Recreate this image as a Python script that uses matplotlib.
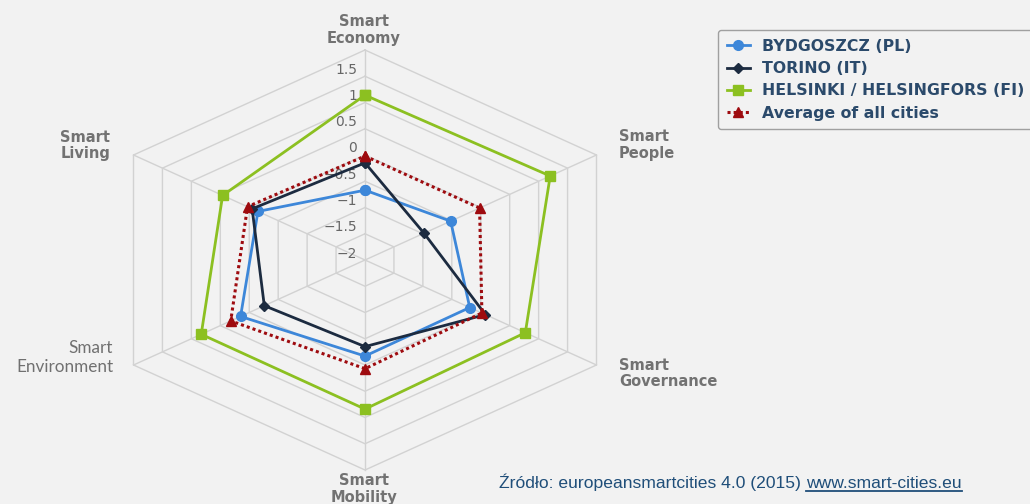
import numpy as np
import matplotlib
matplotlib.use("Agg")
import matplotlib.pyplot as plt
from matplotlib.transforms import offset_copy
from matplotlib.lines import Line2D

# ---------------- data ----------------
categories = ["Smart\nEconomy", "Smart\nPeople", "Smart\nGovernance",
              "Smart\nMobility", "Smart\nEnvironment", "Smart\nLiving"]
bydgoszcz = [-0.67, -0.52, -0.19, -0.17, 0.15, -0.15]
torino = [-0.15, -0.98, 0.08, -0.35, -0.26, -0.05]
helsinki = [1.14, 1.20, 0.77, 0.84, 0.83, 0.46]
average = [-0.02, -0.02, 0.02, 0.07, 0.32, 0.03]
series_names = ["BYDGOSZCZ (PL)", "TORINO (IT)",
                "HELSINKI / HELSINGFORS (FI)", "Average of all cities"]
r_ticks = [-2, -1.5, -1, -0.5, 0, 0.5, 1, 1.5]
grid_levels = [-1.5, -1, -0.5, 0, 0.5, 1, 1.5, 2]
r_min, r_max = -2, 2
source_prefix = "Źródło: europeansmartcities 4.0 (2015) "
source_url = "www.smart-cities.eu"

# ---------------- figure ----------------
W, H = 1030, 504
BG = "#f2f2f2"
fig = plt.figure(figsize=(W / 100, H / 100), dpi=100, facecolor=BG)


def fx(px):
    return px / W


def fy(py):
    return 1 - py / H


cx, cy = 365, 260
rh = 231.5 / np.cos(np.pi / 6)   # horizontal radius of the (stretched) polar area
rv = 210
ax = fig.add_axes([fx(cx - rh), fy(cy + rv), 2 * rh / W, 2 * rv / H], projection="polar")
ax.set_aspect("auto")
ax.set_theta_offset(np.pi / 2)
ax.set_theta_direction(-1)
ax.set_ylim(r_min, r_max)
ax.set_facecolor("none")
ax.grid(False)
ax.set_xticks([])
ax.set_yticks([])
ax.spines["polar"].set_visible(False)

n = len(categories)
angles = np.arange(n) * 2 * np.pi / n
closed = np.append(angles, angles[0])

GRID = "#d2d2d2"
for lv in grid_levels:
    ax.plot(closed, [lv] * (n + 1), color=GRID, lw=1.0, zorder=1, clip_on=False)
for a in angles:
    ax.plot([a, a], [r_min, r_max], color=GRID, lw=1.0, zorder=1, clip_on=False)

# radial tick labels
trans = offset_copy(ax.transData, fig=fig, x=-8, y=6.5, units="dots")
for v in r_ticks:
    lab = ("%g" % v).replace("-", "\u2212")
    ax.text(0, v, lab, transform=trans, ha="right", va="center",
            fontsize=10, color="#666666", zorder=2, family="DejaVu Sans")

specs = [
    (bydgoszcz, "#3d87d9", "o", 7.0, "-", 2.0),
    (torino, "#1c2b40", "D", 5.0, "-", 2.0),
    (helsinki, "#8cc021", "s", 7.5, "-", 2.0),
    (average, "#9e0b0f", "^", 7.0, (0, (1, 1)), 2.2),
]
handles = []
for i, (vals, col, mk, ms, ls, lw) in enumerate(specs):
    v = np.append(vals, vals[0])
    ln, = ax.plot(closed, v, color=col, lw=lw, ls=ls, marker=mk, markersize=ms,
                  markerfacecolor=col, markeredgecolor=col, zorder=3 + i, clip_on=False)
    handles.append(ln)

# category labels
lab_kw = dict(fontsize=10.5, color="#727272", fontweight="bold", family="DejaVu Sans",
              va="center", linespacing=1.1)
fig.text(fx(364), fy(30), categories[0], ha="center", multialignment="center", **lab_kw)
fig.text(fx(619), fy(145), categories[1], ha="left", multialignment="left", **lab_kw)
fig.text(fx(619), fy(373.5), categories[2], ha="left", multialignment="left", **lab_kw)
fig.text(fx(364), fy(489), categories[3], ha="center", multialignment="center", **lab_kw)
fig.text(fx(113), fy(357.5), categories[4], ha="right", multialignment="right",
         fontsize=12.3, color="#707070", family="Lato", va="center", linespacing=1.2)
fig.text(fx(110), fy(145.5), categories[5], ha="right", multialignment="right", **lab_kw)

# legend
leg = fig.legend(handles, series_names, loc="upper left",
                 bbox_to_anchor=(fx(718), fy(30)), bbox_transform=fig.transFigure,
                 borderaxespad=0, prop=dict(family="DejaVu Sans", weight="bold", size=11.3),
                 labelcolor="#2b4a6b", handlelength=1.5, handletextpad=0.75,
                 labelspacing=0.47, borderpad=0.55, frameon=True, fancybox=True,
                 edgecolor="#a0a0a0", facecolor=BG, framealpha=1, numpoints=1)
leg.get_frame().set_linewidth(1.0)

# source
src_kw = dict(fontsize=12.6, color="#1f4e79", family="Liberation Sans", va="baseline")
t1 = fig.text(fx(499), fy(488), source_prefix, ha="left", **src_kw)
fig.canvas.draw()
r = fig.canvas.get_renderer()
e1 = t1.get_window_extent(r)
t2 = fig.text(e1.x1 / W, fy(488), source_url, ha="left", **src_kw)
e2 = t2.get_window_extent(r)
fig.add_artist(Line2D([e2.x0 / W, e2.x1 / W], [fy(491), fy(491)],
                      transform=fig.transFigure, color="#1f4e79", lw=1.3))

fig.savefig("out.png", dpi=100, facecolor=BG)
